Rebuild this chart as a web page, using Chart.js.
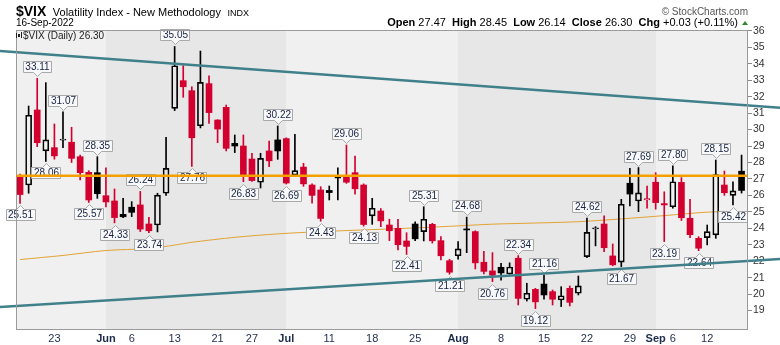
<!DOCTYPE html>
<html>
<head>
<meta charset="utf-8">
<script src="https://cdn.jsdelivr.net/npm/chart.js@4.4.0/dist/chart.umd.min.js"></script>
<style>
  body { margin: 0; background: #fff; }
  #wrap { position: relative; width: 780px; height: 345px; font-family: "Liberation Sans", Arial, sans-serif; }
  #wrap canvas { position: absolute; left: 0; top: 0; }
  .hdr { position: absolute; white-space: nowrap; line-height: 1; color: #000; }
  .up { display: inline-block; width: 0; height: 0; border-left: 3px solid transparent; border-right: 3px solid transparent; border-bottom: 4px solid #2b8a2b; margin-left: 4px; vertical-align: 1px; }
</style>
</head>
<body>
<div id="wrap">
  <canvas id="vix" width="780" height="345"></canvas>
  <div class="hdr" style="left:16px;top:3px;">
    <b style="font-size:14px">$VIX</b>
    <span style="font-size:11px;margin-left:2px">Volatility Index - New Methodology</span>
    <span style="font-size:9px;margin-left:2px">INDX</span>
  </div>
  <div class="hdr" style="left:16px;top:18px;font-size:10px">16-Sep-2022</div>
  <div class="hdr" style="right:32px;top:7px;font-size:10px;color:#555">&copy; StockCharts.com</div>
  <div class="hdr" id="quote" style="right:32px;top:17px;font-size:11px"></div>
</div>
<script>
// trading days, 17 May to 16 Sep 2022
const dates = [
  'May 17','May 18','May 19','May 20','May 23','May 24','May 25','May 26','May 27','May 31',
  'Jun 1','Jun 2','Jun 3','Jun 6','Jun 7','Jun 8','Jun 9','Jun 10','Jun 13','Jun 14','Jun 15',
  'Jun 16','Jun 17','Jun 21','Jun 22','Jun 23','Jun 24','Jun 27','Jun 28','Jun 29','Jun 30',
  'Jul 1','Jul 5','Jul 6','Jul 7','Jul 8','Jul 11','Jul 12','Jul 13','Jul 14','Jul 15',
  'Jul 18','Jul 19','Jul 20','Jul 21','Jul 22','Jul 25','Jul 26','Jul 27','Jul 28','Jul 29',
  'Aug 1','Aug 2','Aug 3','Aug 4','Aug 5','Aug 8','Aug 9','Aug 10','Aug 11','Aug 12',
  'Aug 15','Aug 16','Aug 17','Aug 18','Aug 19','Aug 22','Aug 23','Aug 24','Aug 25','Aug 26',
  'Aug 29','Aug 30','Aug 31','Sep 1','Sep 2','Sep 6','Sep 7','Sep 8','Sep 9',
  'Sep 12','Sep 13','Sep 14','Sep 15','Sep 16'
];

const opens = [
  27.10, 26.63, 31.19, 28.70, 28.90, 29.35, 29.23, 28.35, 27.40, 27.38,
  25.98, 25.66, 24.85, 25.28, 25.42, 24.26, 24.20, 26.13, 31.29, 32.97, 32.36,
  30.23, 32.79, 30.58, 31.35, 29.16, 29.00, 28.21, 26.80, 28.70, 29.37,
  29.45, 27.24, 27.72, 26.63, 26.33, 26.30, 27.04, 27.18, 27.38, 26.63,
  24.75, 25.05, 24.20, 24.00, 23.23, 24.26, 23.80, 24.24, 23.25, 22.03,
  22.33, 23.96, 23.80, 21.94, 21.41, 21.63, 21.22, 22.18, 19.69, 20.29,
  20.61, 20.15, 19.64, 20.35, 20.05, 22.28, 23.96, 24.26, 22.32, 21.94,
  26.74, 25.66, 25.72, 26.80, 25.50, 25.31, 26.79, 24.61, 23.39,
  23.43, 23.60, 26.63, 26.00, 27.47
];
const highs = [
  27.30, 31.43, 33.11, 32.85, 30.34, 31.07, 30.14, 28.45, 27.50, 28.35,
  27.68, 26.39, 25.82, 25.62, 26.24, 24.67, 26.13, 29.53, 35.05, 33.88, 32.60,
  34.77, 33.27, 30.60, 31.49, 29.67, 29.67, 28.56, 28.56, 29.30, 30.22,
  29.50, 29.71, 27.95, 26.70, 26.53, 26.57, 27.68, 29.06, 28.39, 26.70,
  25.82, 25.20, 24.55, 24.55, 23.73, 24.40, 25.31, 24.30, 23.49, 22.12,
  23.19, 24.68, 23.85, 22.60, 22.52, 21.87, 21.90, 22.34, 20.66, 20.35,
  21.16, 20.25, 20.45, 20.50, 21.10, 24.62, 24.10, 24.75, 23.05, 25.76,
  27.64, 27.69, 26.57, 27.38, 26.22, 27.80, 27.08, 25.76, 23.49,
  24.20, 28.15, 27.48, 26.83, 28.45
];
const lows = [
  25.51, 26.13, 28.96, 28.06, 28.20, 28.90, 28.00, 26.94, 25.57, 25.82,
  25.30, 24.33, 24.65, 24.71, 23.80, 23.74, 23.78, 26.00, 31.15, 31.96, 27.76,
  30.10, 30.38, 29.20, 28.70, 28.60, 26.83, 26.85, 26.45, 27.74, 28.19,
  26.69, 27.15, 26.55, 25.52, 24.43, 25.72, 25.72, 26.73, 26.07, 24.13,
  24.24, 24.10, 23.25, 22.68, 22.41, 23.25, 23.23, 23.10, 22.08, 21.21,
  22.12, 22.52, 21.53, 21.22, 20.76, 20.85, 21.20, 19.34, 19.58, 19.12,
  19.69, 19.34, 19.24, 19.28, 19.95, 22.22, 22.93, 22.58, 21.72, 21.67,
  25.36, 25.01, 25.22, 25.16, 23.19, 25.22, 24.47, 23.43, 22.64,
  22.99, 23.39, 26.00, 25.42, 26.14
];
const closes = [
  26.05, 30.87, 29.20, 29.37, 28.40, 29.42, 28.25, 27.38, 25.72, 26.10,
  25.60, 24.65, 24.70, 24.97, 23.95, 23.85, 26.02, 27.64, 33.88, 32.60, 29.50,
  32.87, 31.03, 30.03, 28.86, 29.00, 27.20, 26.90, 28.25, 28.10, 28.70,
  26.75, 27.50, 26.70, 26.00, 24.60, 26.17, 27.20, 26.80, 26.40, 24.23,
  25.22, 24.45, 23.85, 23.00, 22.90, 23.36, 24.55, 23.24, 22.33, 21.33,
  22.75, 23.90, 21.90, 21.38, 21.15, 21.29, 21.65, 19.74, 20.05, 19.53,
  19.95, 19.69, 19.90, 19.50, 20.50, 23.75, 24.02, 22.82, 21.78, 25.46,
  26.08, 26.15, 25.80, 25.56, 25.42, 26.83, 24.64, 23.61, 22.79,
  23.80, 27.27, 26.16, 26.27, 26.30
];
const prevClose = 27.47; // close before the first bar

// swing points that carry a value tag
const highTagDays = [2, 5, 9, 14, 18, 30, 38, 47, 52, 58, 61, 66, 72, 76, 81];
const lowTagDays = [0, 3, 8, 11, 15, 20, 26, 31, 35, 40, 45, 50, 55, 60, 70, 75, 79, 83];

// moving average, sampled
const maDays = [0, 5, 10, 15, 18, 20, 25, 30, 35, 40, 45, 50, 55, 60, 65, 70, 75, 80, 84];
const maValues = [22.10, 22.35, 22.65, 22.77, 22.98, 23.15, 23.45, 23.66, 23.80, 23.90,
                  24.00, 24.12, 24.25, 24.32, 24.40, 24.57, 24.77, 24.98, 25.02];

// drawn lines: [day, value] anchors
const trendUpper = [[0, 34.68], [84, 31.50]];
const trendLower = [[0, 19.29], [84, 21.99]];
const levelLine = 27.2;

// axes
const tickDays = [4, 10, 13, 18, 23, 27, 31, 36, 41, 46, 51, 56, 61, 66, 71, 74, 76, 80];
const tickText = ['23', 'Jun', '6', '13', '21', '27', 'Jul', '11', '18', '25', 'Aug', '8', '15', '22', '29', 'Sep', '6', '12'];
const monthStarts = [10, 31, 51, 74];
const yTicks = [19, 20, 21, 22, 23, 24, 25, 26, 27, 28, 29, 30, 31, 32, 33, 34, 35, 36];

const RED = '#d3002f';
const BLACK = '#000';
const FONT = '"Liberation Sans", Arial, sans-serif';

const colors = closes.map((c, i) => c < (i ? closes[i - 1] : prevClose) ? RED : BLACK);
const filled = closes.map((c, i) => c < opens[i]);

const last = closes.length - 1;
const chg = closes[last] - closes[last - 1];
document.getElementById('quote').innerHTML =
  '<b>Open</b> ' + opens[last].toFixed(2) + '&nbsp; <b>High</b> ' + highs[last].toFixed(2) +
  '&nbsp; <b>Low</b> ' + lows[last].toFixed(2) + '&nbsp; <b>Close</b> ' + closes[last].toFixed(2) +
  '&nbsp; <b>Chg</b> ' + (chg >= 0 ? '+' : '') + chg.toFixed(2) +
  ' (' + (chg >= 0 ? '+' : '') + (chg / closes[last - 1] * 100).toFixed(2) + '%)<span class="up"></span>';

const upperWicks = dates.map((d, i) => ({ x: i, y: [Math.max(opens[i], closes[i]), highs[i]] }));
const lowerWicks = dates.map((d, i) => ({ x: i, y: [lows[i], Math.min(opens[i], closes[i])] }));
const bodies = dates.map((d, i) => ({ x: i, y: [opens[i], closes[i]] }));

// alternating month shading plus frame
const bandsPlugin = {
  id: 'bands',
  beforeDatasetsDraw(chart) {
    const { ctx, chartArea: a, scales: { x } } = chart;
    const edges = [a.left, ...monthStarts.map(d => Math.round(x.getPixelForValue(d))), a.right];
    ctx.save();
    for (let i = 0; i < edges.length - 1; i++) {
      ctx.fillStyle = i % 2 ? '#e7e7e7' : '#f0f0f0';
      ctx.fillRect(edges[i], a.top, edges[i + 1] - edges[i], a.bottom - a.top);
    }
    ctx.restore();
  },
  afterDraw(chart) {
    const { ctx, chartArea: a } = chart;
    ctx.save();
    ctx.strokeStyle = '#9a9a9a';
    ctx.lineWidth = 1;
    ctx.strokeRect(a.left + 0.5, a.top + 0.5, a.right - a.left - 1, a.bottom - a.top);
    // series legend
    ctx.fillStyle = '#222';
    ctx.fillRect(16, 33, 1, 5);
    ctx.fillRect(18, 34, 2, 3);
    ctx.fillRect(21, 32, 1, 6);
    ctx.font = '10px ' + FONT;
    ctx.textBaseline = 'alphabetic';
    ctx.fillText('$VIX (Daily) ' + closes[last].toFixed(2), 23, 39);
    ctx.restore();
  }
};

function tag(ctx, x, tipY, text, below) {
  ctx.font = '10px ' + FONT;
  const w = Math.round(ctx.measureText(text).width) + 4;
  const h = 11;
  const cx = Math.round(x) + 0.5;
  const l = Math.round(x - w / 2) + 0.5;
  const r = l + w;
  ctx.beginPath();
  if (below) {
    const t = Math.round(tipY + 5) + 0.5;
    ctx.moveTo(l, t); ctx.lineTo(cx - 4, t); ctx.lineTo(cx, t - 4); ctx.lineTo(cx + 4, t);
    ctx.lineTo(r, t); ctx.lineTo(r, t + h); ctx.lineTo(l, t + h); ctx.closePath();
    ctx.fill(); ctx.stroke();
    ctx.save(); ctx.fillStyle = '#17223f';
    ctx.fillText(text, cx, t + h / 2 + 0.5); ctx.restore();
  } else {
    const b = Math.round(tipY - 5) + 0.5;
    ctx.moveTo(l, b); ctx.lineTo(cx - 4, b); ctx.lineTo(cx, b + 4); ctx.lineTo(cx + 4, b);
    ctx.lineTo(r, b); ctx.lineTo(r, b - h); ctx.lineTo(l, b - h); ctx.closePath();
    ctx.fill(); ctx.stroke();
    ctx.save(); ctx.fillStyle = '#17223f';
    ctx.fillText(text, cx, b - h / 2 + 0.5); ctx.restore();
  }
}

const overlayPlugin = {
  id: 'overlay',
  afterDatasetsDraw(chart) {
    const { ctx, chartArea: a, scales: { x, y } } = chart;
    ctx.save();
    ctx.fillStyle = '#f7f8fa';
    ctx.strokeStyle = '#a9a9a9';
    ctx.lineWidth = 1;
    ctx.textAlign = 'center';
    ctx.textBaseline = 'middle';
    highTagDays.forEach(d => tag(ctx, x.getPixelForValue(d), y.getPixelForValue(highs[d]) - 1, highs[d].toFixed(2), false));
    lowTagDays.forEach(d => tag(ctx, x.getPixelForValue(d), y.getPixelForValue(lows[d]) + 1, lows[d].toFixed(2), true));

    // horizontal level
    const ly = y.getPixelForValue(levelLine);
    ctx.strokeStyle = '#f5a000';
    ctx.lineWidth = 2.5;
    ctx.beginPath(); ctx.moveTo(a.left, ly); ctx.lineTo(a.right, ly); ctx.stroke();

    // trend channel, run out to the canvas edges
    ctx.strokeStyle = '#40808a';
    ctx.lineWidth = 2.5;
    [trendUpper, trendLower].forEach(line => {
      const x0 = x.getPixelForValue(line[0][0]), y0 = y.getPixelForValue(line[0][1]);
      const x1 = x.getPixelForValue(line[1][0]), y1 = y.getPixelForValue(line[1][1]);
      const k = (y1 - y0) / (x1 - x0);
      ctx.beginPath();
      ctx.moveTo(0, y0 - k * x0);
      ctx.lineTo(chart.width, y0 + k * (chart.width - x0));
      ctx.stroke();
    });
    ctx.restore();
  }
};

new Chart(document.getElementById('vix'), {
  type: 'bar',
  data: {
    datasets: [
      {
        type: 'line',
        data: maDays.map((d, i) => ({ x: d, y: maValues[i] })),
        borderColor: '#e2a334',
        borderWidth: 1,
        pointRadius: 0,
        tension: 0.3,
        order: 4
      },
      {
        data: upperWicks,
        backgroundColor: colors,
        barThickness: 1,
        grouped: false,
        order: 3
      },
      {
        data: lowerWicks,
        backgroundColor: colors,
        barThickness: 1,
        grouped: false,
        order: 3
      },
      {
        data: bodies,
        backgroundColor: colors.map((c, i) => filled[i] ? c : 'rgba(0,0,0,0)'),
        borderColor: colors,
        borderWidth: filled.map(f => f ? 0 : 1),
        borderSkipped: false,
        barThickness: 6,
        minBarLength: 1,
        grouped: false,
        order: 1
      }
    ]
  },
  options: {
    responsive: false,
    animation: false,
    layout: { padding: { left: 16, top: 30, right: 0, bottom: 0 } },
    plugins: { legend: { display: false }, tooltip: { enabled: false } },
    scales: {
      x: {
        type: 'linear',
        min: -0.47,
        max: 84.75,
        offset: false,
        grid: { display: false, drawTicks: false },
        border: { display: false },
        afterFit: s => { s.height = 16; },
        afterBuildTicks: s => { s.ticks = tickDays.map(v => ({ value: v })); },
        ticks: {
          autoSkip: false,
          maxRotation: 0,
          padding: 3,
          color: '#1e2c4c',
          font: ctx => ({ family: FONT, size: 11, weight: monthStarts.includes(ctx.tick && ctx.tick.value) ? 'bold' : 'normal' }),
          callback: (v, i) => tickText[i]
        }
      },
      y: {
        position: 'right',
        min: 17.88,
        max: 36.05,
        border: { display: false },
        grid: { drawOnChartArea: false, drawTicks: true, tickLength: 4, color: '#8a8a8a' },
        afterFit: s => { s.width = 32; },
        afterBuildTicks: s => { s.ticks = yTicks.map(v => ({ value: v })); },
        ticks: {
          padding: 1,
          color: '#333',
          font: { family: FONT, size: 10.5 }
        }
      }
    }
  },
  plugins: [bandsPlugin, overlayPlugin]
});
</script>
</body>
</html>
